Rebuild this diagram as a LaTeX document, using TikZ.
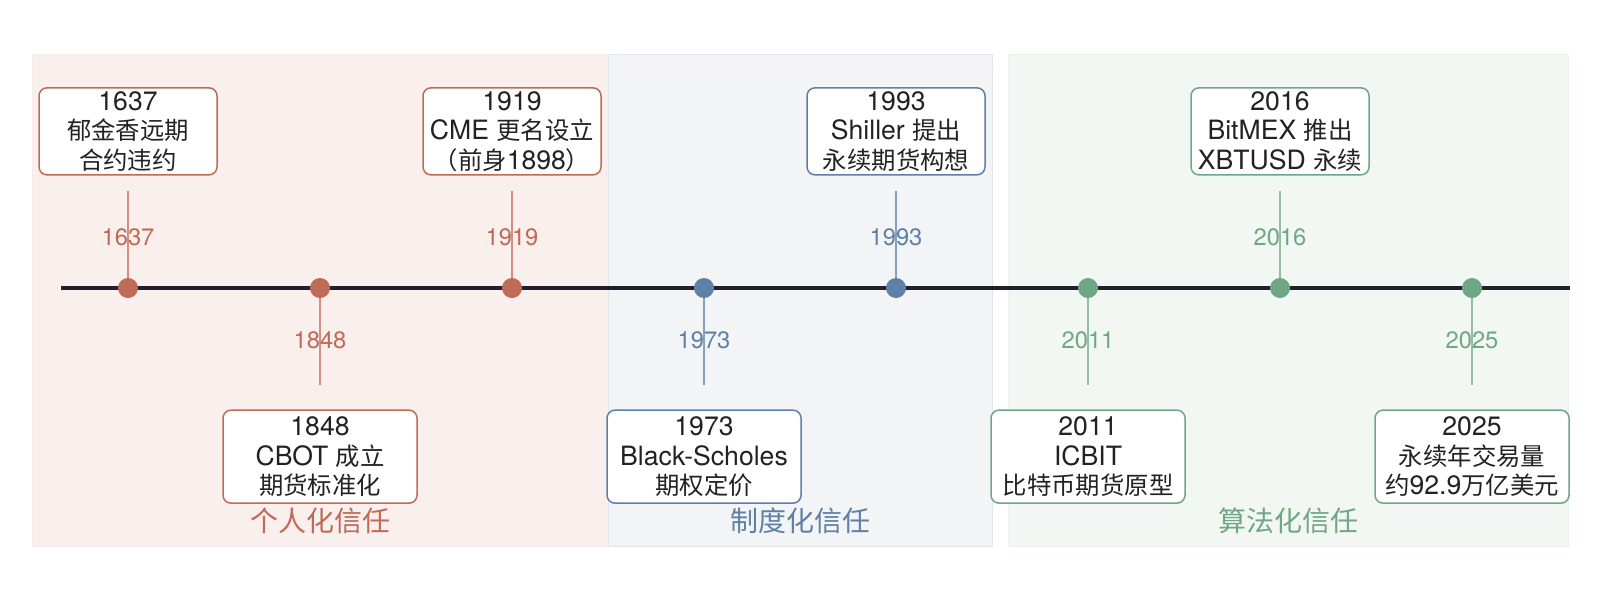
\documentclass[tikz,border=0pt]{standalone}
\usepackage{fontspec}
\setmainfont{Noto Sans CJK SC}
\newfontfamily\hv[Scale=1.09]{TeX Gyre Heros}
\usetikzlibrary{positioning}

\definecolor{rust}{HTML}{C06A56}
\definecolor{steel}{HTML}{5E80A6}
\definecolor{sage}{HTML}{6FA786}
\definecolor{ink}{HTML}{222222}
\definecolor{pinkbg}{HTML}{F9EFEC}
\definecolor{bluebg}{HTML}{F2F4F6}
\definecolor{greenbg}{HTML}{F2F7F3}

\begin{document}
\begin{tikzpicture}[x=0.5pt, y=-0.5pt,
        every node/.style = {align=center, inner sep=0pt},
        dot/.style = {shape=circle, minimum size=10pt},
        evbox/.style = {shape=rectangle, draw, fill=white, rounded corners=4pt,
                        line width=0.75pt, text=ink,
                        font=\fontsize{12.2}{14.8}\selectfont},
        topbox/.style = {evbox, minimum width=89pt, minimum height=43.5pt},
        botbox/.style = {evbox, minimum width=97pt, minimum height=46.5pt},
        tick/.style = {line width=0.7pt},
        yr/.style = {font=\hv\fontsize{10.9}{12}\selectfont},
        era/.style = {font=\fontsize{14}{16}\selectfont},
        band/.style = {line width=0.5pt}]
    \useasboundingbox (0,0) rectangle (1600,600);

    % trust eras
    \draw[band, fill=pinkbg, draw=rust!12] (32,54) rectangle (608,546);
    \draw[band, fill=bluebg, draw=steel!20] (608,54) rectangle (992,546);
    \draw[band, fill=greenbg, draw=sage!15] (1008,54) rectangle (1568,546);
    \node[era, text=rust]  (e1) at (320,521)  {个人化信任};
    \node[era, text=steel] (e2) at (800,521)  {制度化信任};
    \node[era, text=sage]  (e3) at (1288,521) {算法化信任};

    % axis
    \coordinate (tl) at (61,288);
    \coordinate (tr) at (1570,288);
    \draw[line width=2pt, color=ink!95!blue] (tl) -- (tr);

    \node[dot, fill=rust]  (d1) at (128,288)  {};
    \node[dot, fill=rust]  (d2) at (320,288)  {};
    \node[dot, fill=rust]  (d3) at (512,288)  {};
    \node[dot, fill=steel] (d4) at (704,288)  {};
    \node[dot, fill=steel] (d5) at (896,288)  {};
    \node[dot, fill=sage]  (d6) at (1088,288) {};
    \node[dot, fill=sage]  (d7) at (1280,288) {};
    \node[dot, fill=sage]  (d8) at (1472,288) {};

    \node[topbox, draw=rust,  above=51pt of d1] (b1) {{\hv 1637}\\郁金香远期\\合约违约};
    \node[botbox, draw=rust,  below=55.5pt of d2] (b2) {{\hv 1848}\\{\hv CBOT }成立\\期货标准化};
    \node[topbox, draw=rust,  above=51pt of d3] (b3) {{\hv 1919}\\{\hv CME }更名设立\\（前身{\hv 1898}）};
    \node[botbox, draw=steel, below=55.5pt of d4] (b4) {{\hv 1973}\\{\hv Black-Scholes}\\期权定价};
    \node[topbox, draw=steel, above=51pt of d5] (b5) {{\hv 1993}\\{\hv Shiller }提出\\永续期货构想};
    \node[botbox, draw=sage,  below=55.5pt of d6] (b6) {{\hv 2011}\\{\hv ICBIT}\\比特币期货原型};
    \node[topbox, draw=sage,  above=51pt of d7] (b7) {{\hv 2016}\\{\hv BitMEX }推出\\{\hv XBTUSD }永续};
    \node[botbox, draw=sage,  below=55.5pt of d8] (b8) {{\hv 2025}\\永续年交易量\\约{\hv 92.9}万亿美元};

    \draw[tick, rust!75, shorten <=7.5pt] (b1) -- node[yr, pos=0.6, text=rust] {1637} (d1);
    \draw[tick, rust!75, shorten >=12pt] (d2) -- node[yr, pos=0.38, text=rust] {1848} (b2);
    \draw[tick, rust!75, shorten <=7.5pt] (b3) -- node[yr, pos=0.6, text=rust] {1919} (d3);
    \draw[tick, steel!75, shorten >=12pt] (d4) -- node[yr, pos=0.38, text=steel] {1973} (b4);
    \draw[tick, steel!75, shorten <=7.5pt] (b5) -- node[yr, pos=0.6, text=steel] {1993} (d5);
    \draw[tick, sage!75, shorten >=12pt] (d6) -- node[yr, pos=0.38, text=sage] {2011} (b6);
    \draw[tick, sage!75, shorten <=7.5pt] (b7) -- node[yr, pos=0.6, text=sage] {2016} (d7);
    \draw[tick, sage!75, shorten >=12pt] (d8) -- node[yr, pos=0.38, text=sage] {2025} (b8);
\end{tikzpicture}
\end{document}
